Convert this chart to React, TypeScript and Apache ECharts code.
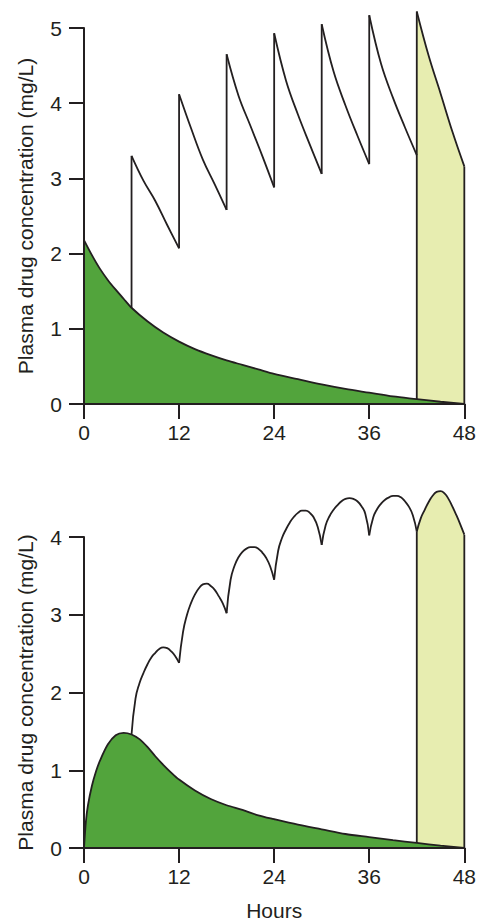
import React, { useEffect, useRef } from "react";
import * as echarts from "echarts";

// ---------- data ----------
const hourTicks = [0, 12, 24, 36, 48];
const topConcTicks = [0, 1, 2, 3, 4, 5];
const bottomConcTicks = [0, 1, 2, 3, 4];

// Top panel: repeated IV doses
const ivFirstDoseTimes = [0, 1, 2, 3, 4, 5, 6, 8, 10, 12, 14, 16, 18, 20, 22, 24, 27, 30, 33, 36, 39, 42, 45, 48];
const ivFirstDoseValues = [2.18, 1.98, 1.8, 1.65, 1.52, 1.4, 1.28, 1.1, 0.95, 0.83, 0.73, 0.65, 0.58, 0.52, 0.46, 0.4, 0.33, 0.26, 0.2, 0.15, 0.1, 0.065, 0.03, 0];
const ivDoseTimes = [6, 12, 18, 24, 30, 36, 42];
const ivDecayOffsets = [0, 1.5, 3, 4.5, 6];
const ivDecayValues = [
  [3.3, 2.97, 2.7, 2.38, 2.07],
  [4.12, 3.67, 3.25, 2.92, 2.58],
  [4.65, 4.1, 3.7, 3.3, 2.88],
  [4.93, 4.3, 3.85, 3.45, 3.06],
  [5.05, 4.42, 3.97, 3.57, 3.19],
  [5.17, 4.52, 4.07, 3.68, 3.31],
  [5.22, 4.63, 4.13, 3.62, 3.16],
];

// Bottom panel: repeated oral doses
const oralFirstDoseTimes = [0, 0.25, 0.5, 1, 1.5, 2, 3, 4, 5, 6, 7, 8, 9, 10, 11, 12, 14, 16, 18, 20, 22, 24, 27, 30, 33, 36, 39, 42, 45, 48];
const oralFirstDoseValues = [0, 0.35, 0.55, 0.8, 0.98, 1.12, 1.33, 1.45, 1.48, 1.46, 1.4, 1.3, 1.18, 1.07, 0.97, 0.88, 0.74, 0.63, 0.55, 0.49, 0.42, 0.37, 0.3, 0.24, 0.18, 0.14, 0.1, 0.065, 0.03, 0];
const oralDoseTimes = [6, 12, 18, 24, 30, 36, 42];
const oralArcOffsets = [0, 0.5, 1, 1.5, 2, 2.5, 3, 3.5, 4, 4.5, 5, 5.5, 6];
const oralArcValues = [
  [1.46, 1.92, 2.12, 2.25, 2.36, 2.45, 2.51, 2.56, 2.58, 2.57, 2.53, 2.47, 2.38],
  [2.38, 2.78, 3.0, 3.15, 3.26, 3.34, 3.39, 3.4, 3.37, 3.32, 3.24, 3.15, 3.02],
  [3.02, 3.45, 3.63, 3.74, 3.81, 3.85, 3.87, 3.87, 3.85, 3.8, 3.73, 3.62, 3.45],
  [3.45, 3.82, 3.99, 4.1, 4.19, 4.26, 4.31, 4.34, 4.34, 4.31, 4.25, 4.13, 3.9],
  [3.9, 4.15, 4.27, 4.35, 4.41, 4.46, 4.49, 4.5, 4.49, 4.46, 4.4, 4.3, 4.02],
  [4.02, 4.25, 4.36, 4.43, 4.48, 4.51, 4.53, 4.53, 4.51, 4.46, 4.39, 4.28, 4.07],
  [4.07, 4.24, 4.35, 4.45, 4.53, 4.58, 4.59, 4.56, 4.49, 4.39, 4.28, 4.16, 4.03],
];

const yTitle = "Plasma drug concentration (mg/L)";
const xTitle = "Hours";

// ---------- style ----------
const FONT = "'Liberation Sans', Arial, Helvetica, sans-serif";
const INK = "#231F20";
const GREEN = "#52A43C";
const YELLOW = "#E7EDB0";
const LW = 1.8;

function pairs(ts: number[], vs: number[]) {
  return ts.map((t, i) => [t, vs[i]]);
}

function lineSeries(idx: number, data: number[][], extra: any = {}) {
  return {
    type: "line",
    xAxisIndex: idx,
    yAxisIndex: idx,
    data,
    smooth: extra.smooth ?? false,
    symbol: "none",
    showSymbol: false,
    clip: false,
    silent: true,
    lineStyle: { color: INK, width: LW },
    z: extra.z ?? 3,
    ...(extra.area ? { areaStyle: { color: extra.area, opacity: 1, origin: 0 } } : {}),
  };
}

function buildPanel(
  idx: number,
  firstT: number[],
  firstV: number[],
  doses: number[],
  offsets: number[],
  segs: number[][],
  fromPrevTrough: boolean,
  smoothness: number
) {
  const series: any[] = [];
  const last = segs.length - 1;
  const green = (t: number) => firstV[firstT.indexOf(t)];
  // last interval (yellow)
  series.push(
    lineSeries(
      idx,
      offsets.map((o, j) => [doses[last] + o, segs[last][j]]),
      { smooth: smoothness, area: YELLOW, z: 2 }
    )
  );
  // first dose (green)
  series.push(lineSeries(idx, pairs(firstT, firstV), { smooth: 0.3, area: GREEN, z: 3 }));
  // other intervals
  segs.forEach((vals, i) => {
    if (i === last) return;
    series.push(lineSeries(idx, offsets.map((o, j) => [doses[i] + o, vals[j]]), { smooth: smoothness, z: 4 }));
  });
  // vertical dose lines
  doses.forEach((t, i) => {
    let from: number;
    if (i === last) from = green(t);
    else if (!fromPrevTrough) return;
    else if (i === 0) from = green(t);
    else from = segs[i - 1][segs[i - 1].length - 1];
    series.push(lineSeries(idx, [[t, from], [t, segs[i][0]]], { z: 4 }));
  });
  // closing edge at the end
  const endT = doses[last] + offsets[offsets.length - 1];
  series.push(lineSeries(idx, [[endT, 0], [endT, segs[last][segs[last].length - 1]]], { z: 4 }));
  return series;
}

function axisX(idx: number, withName: boolean) {
  return {
    type: "value",
    gridIndex: idx,
    min: hourTicks[0],
    max: hourTicks[hourTicks.length - 1],
    interval: hourTicks[1] - hourTicks[0],
    z: 10,
    axisLine: { show: true, onZero: false, lineStyle: { color: INK, width: 2 } },
    axisTick: { show: true, inside: false, length: 15, lineStyle: { color: INK, width: 2 } },
    axisLabel: { show: true, color: INK, fontSize: 21, fontFamily: FONT, margin: 18 },
    splitLine: { show: false },
    ...(withName
      ? {
          name: xTitle,
          nameLocation: "middle",
          nameGap: 52,
          nameTextStyle: { color: INK, fontSize: 21, fontFamily: FONT },
        }
      : {}),
  };
}

function axisY(idx: number, ticks: number[]) {
  return {
    type: "value",
    gridIndex: idx,
    min: ticks[0],
    max: ticks[ticks.length - 1],
    interval: ticks[1] - ticks[0],
    z: 10,
    axisLine: { show: true, onZero: false, lineStyle: { color: INK, width: 2 } },
    axisTick: { show: true, inside: false, length: 15, lineStyle: { color: INK, width: 2 } },
    axisLabel: { show: true, color: INK, fontSize: 21, fontFamily: FONT, margin: 22 },
    splitLine: { show: false },
    name: yTitle,
    nameLocation: "middle",
    nameRotate: 90,
    nameGap: 48,
    nameTextStyle: { color: INK, fontSize: 21, fontFamily: FONT },
  };
}

export default function App() {
  const ref = useRef<HTMLDivElement>(null);
  useEffect(() => {
    if (!ref.current) return;
    const chart = echarts.init(ref.current, undefined, { renderer: "svg" });
    const option: any = {
      animation: false,
      backgroundColor: "#ffffff",
      textStyle: { fontFamily: FONT },
      grid: [
        { left: 84, top: 28, width: 381, height: 376, containLabel: false },
        { left: 84, top: 537, width: 381, height: 311, containLabel: false },
      ],
      xAxis: [axisX(0, false), axisX(1, true)],
      yAxis: [axisY(0, topConcTicks), axisY(1, bottomConcTicks)],
      series: [
        ...buildPanel(0, ivFirstDoseTimes, ivFirstDoseValues, ivDoseTimes, ivDecayOffsets, ivDecayValues, true, 0.4),
        ...buildPanel(1, oralFirstDoseTimes, oralFirstDoseValues, oralDoseTimes, oralArcOffsets, oralArcValues, false, 0.5),
      ],
    };
    chart.setOption(option);
    return () => chart.dispose();
  }, []);
  return (
    <div
      ref={ref}
      style={{ position: "absolute", left: 0, top: 0, width: 479, height: 923, background: "#fff" }}
    />
  );
}
